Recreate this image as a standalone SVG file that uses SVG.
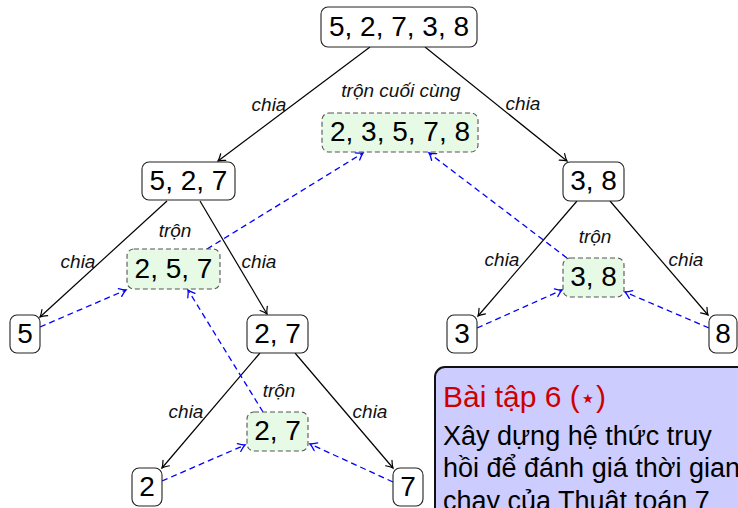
<svg xmlns="http://www.w3.org/2000/svg" width="738" height="508" viewBox="0 0 738 508">
<style>
.n rect{fill:#fff;stroke:#222;stroke-width:1.1}
.g rect{fill:#e6fae6;stroke:#555;stroke-width:1.1;stroke-dasharray:5,3}
.t{font-family:"Liberation Sans",Arial,sans-serif;font-size:28px;fill:#000;text-anchor:middle}
.l{font-family:"Liberation Sans",Arial,sans-serif;font-size:19px;font-style:italic;fill:#111;text-anchor:middle}
.e line{stroke:#000;stroke-width:1.2;marker-end:url(#ak)}
.b line{stroke:#0000ff;stroke-width:1.3;stroke-dasharray:6,4;marker-end:url(#ab)}
</style>
<defs>
<marker id="ak" markerUnits="userSpaceOnUse" viewBox="-8 -5 10 10" refX="0" refY="0" markerWidth="10" markerHeight="10" orient="auto" overflow="visible">
<path d="M-6.5,-4.2 Q-2.5,-1 0,0 Q-2.5,1 -6.5,4.2" fill="none" stroke="#000" stroke-width="1.2" stroke-linecap="round"/>
</marker>
<marker id="ab" markerUnits="userSpaceOnUse" viewBox="-8 -5 10 10" refX="0" refY="0" markerWidth="10" markerHeight="10" orient="auto" overflow="visible">
<path d="M-6.5,-4.2 Q-2.5,-1 0,0 Q-2.5,1 -6.5,4.2" fill="none" stroke="#0000ff" stroke-width="1.3" stroke-linecap="round"/>
</marker>
</defs>
<g id="connectors">
<g class="e">
<line x1="370" y1="47" x2="218" y2="161"/>
<line x1="425" y1="47" x2="567" y2="161"/>
<line x1="167" y1="201" x2="40" y2="317"/>
<line x1="200" y1="201" x2="267" y2="314"/>
<line x1="577" y1="201" x2="478" y2="316"/>
<line x1="610" y1="201" x2="708" y2="315"/>
<line x1="260" y1="353" x2="162" y2="468"/>
<line x1="295" y1="353" x2="393" y2="468"/>
</g>
<g class="b">
<line x1="40" y1="327" x2="126" y2="290"/>
<line x1="207" y1="249" x2="363" y2="153"/>
<line x1="263" y1="412" x2="188" y2="290"/>
<line x1="477" y1="328" x2="562" y2="290"/>
<line x1="709" y1="328" x2="625" y2="292"/>
<line x1="567" y1="258" x2="429" y2="153"/>
<line x1="162" y1="481" x2="245" y2="445"/>
<line x1="393" y1="482" x2="310" y2="444"/>
</g>
</g>
<g id="labels">
<text class="l" x="401" y="97">trộn cuối cùng</text>
<text class="l" x="269" y="111">chia</text>
<text class="l" x="523" y="110">chia</text>
<text class="l" x="175" y="237">trộn</text>
<text class="l" x="78" y="268">chia</text>
<text class="l" x="259" y="268">chia</text>
<text class="l" x="595" y="243">trộn</text>
<text class="l" x="502" y="266">chia</text>
<text class="l" x="686" y="266">chia</text>
<text class="l" x="279" y="397">trộn</text>
<text class="l" x="186" y="418">chia</text>
<text class="l" x="370" y="418">chia</text>
</g>
<g id="root" class="n"><rect x="321" y="7" width="156" height="40" rx="7"/><text class="t" x="399" y="36">5, 2, 7, 3, 8</text></g>
<g id="merge-all" class="g"><rect x="322" y="113" width="156" height="39" rx="7"/><text class="t" x="400" y="141">2, 3, 5, 7, 8</text></g>
<g id="n527" class="n"><rect x="142" y="162" width="93" height="38" rx="7"/><text class="t" x="188.5" y="190">5, 2, 7</text></g>
<g id="n38" class="n"><rect x="563" y="162" width="61" height="39" rx="7"/><text class="t" x="593.5" y="190">3, 8</text></g>
<g id="m257" class="g"><rect x="127" y="249" width="93" height="40" rx="7"/><text class="t" x="173.5" y="278">2, 5, 7</text></g>
<g id="m38" class="g"><rect x="563" y="258" width="61" height="39" rx="7"/><text class="t" x="593.5" y="286">3, 8</text></g>
<g id="n5" class="n"><rect x="10" y="315" width="30" height="38" rx="7"/><text class="t" x="25" y="343">5</text></g>
<g id="n27" class="n"><rect x="247" y="315" width="61" height="38" rx="7"/><text class="t" x="277.5" y="343">2, 7</text></g>
<g id="n3" class="n"><rect x="447" y="315" width="30" height="38" rx="7"/><text class="t" x="462" y="343">3</text></g>
<g id="n8" class="n"><rect x="709" y="315" width="28" height="38" rx="7"/><text class="t" x="723" y="343">8</text></g>
<g id="m27" class="g"><rect x="247" y="412" width="61" height="39" rx="7"/><text class="t" x="277.5" y="440">2, 7</text></g>
<g id="n2" class="n"><rect x="132" y="468" width="30" height="38" rx="7"/><text class="t" x="147" y="496">2</text></g>
<g id="n7" class="n"><rect x="393" y="468" width="30" height="38" rx="7"/><text class="t" x="408" y="496">7</text></g>
<g id="exercise">
<rect x="435" y="367" width="330" height="170" rx="10" fill="#ccccff" stroke="#111" stroke-width="2"/>
<text x="443" y="407" font-family="'Liberation Sans','DejaVu Sans',sans-serif" font-size="30" fill="#cc0000">Bài tập 6 (<tspan font-family="'DejaVu Sans',sans-serif" font-size="26">⋆</tspan>)</text>
<text font-family="'Liberation Sans',Arial,sans-serif" font-size="27" fill="#000">
<tspan x="443" y="445">Xây dựng hệ thức truy</tspan>
<tspan x="443" y="477">hồi để đánh giá thời gian</tspan>
<tspan x="443" y="510">chạy của Thuật toán 7</tspan>
</text>
</g>
</svg>
